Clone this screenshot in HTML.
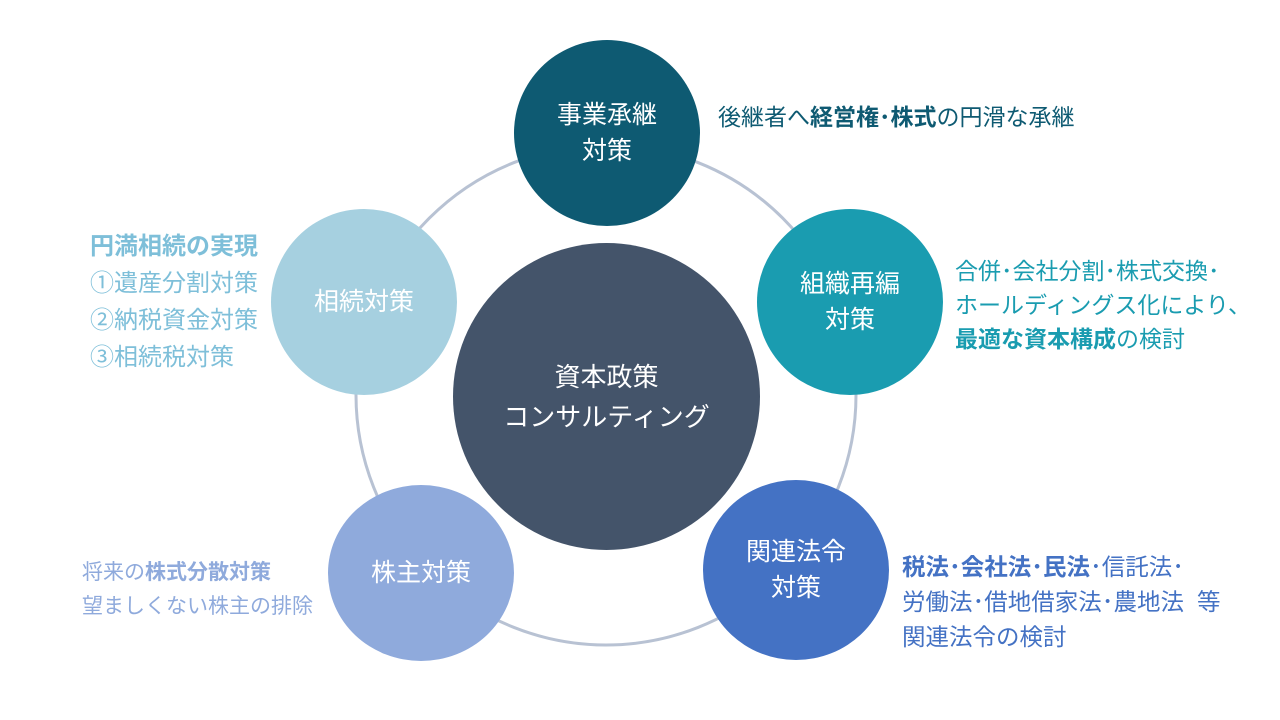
<!DOCTYPE html>
<html><head><meta charset="utf-8"><style>
body{margin:0;width:1280px;height:720px;background:#fff;position:relative;overflow:hidden;font-family:"Liberation Sans","Noto Sans CJK JP",sans-serif;}
.c{position:absolute;border-radius:50%;display:flex;align-items:center;justify-content:center;text-align:center;color:#fff;font-size:25px;line-height:36px;}
.t{position:absolute;font-size:23px;line-height:36px;white-space:nowrap;}
b{font-weight:bold;}
</style></head><body>
<svg width="1280" height="720" style="position:absolute;left:0;top:0">
<circle cx="606" cy="395" r="250" fill="none" stroke="#b8c2d3" stroke-width="3"/>
</svg>
<div class="c" style="left:453px;top:243px;width:307px;height:307px;background:#44546a;font-size:26px;line-height:40px">資本政策<br>コンサルティング</div>
<div class="c" style="left:514px;top:40px;width:186px;height:186px;background:#0e5a72">事業承継<br>対策</div>
<div class="c" style="left:757px;top:209px;width:186px;height:186px;background:#1a9cb0">組織再編<br>対策</div>
<div class="c" style="left:703px;top:480px;width:186px;height:180px;background:#4472c4">関連法令<br>対策</div>
<div class="c" style="left:328px;top:485px;width:186px;height:176px;background:#8faadc">株主対策</div>
<div class="c" style="left:271px;top:209px;width:186px;height:186px;background:#a6d0e0">相続対策</div>

<div class="t" style="left:718px;top:99px;color:#0e5a72">後継者へ<b>経営権･株式</b>の円滑な承継</div>
<div class="t" style="left:90px;top:228px;color:#7ebfd9;font-size:24px;line-height:37px"><b>円満相続の実現</b><br>①遺産分割対策<br>②納税資金対策<br>③相続税対策</div>
<div class="t" style="left:955px;top:254px;color:#1a9cb0;line-height:34px">合併･会社分割･株式交換･<br>ホールディングス化により、<br><b>最適な資本構成</b>の検討</div>
<div class="t" style="left:902px;top:550px;color:#4472c4;line-height:35px;font-size:23.5px"><b>税法･会社法･民法</b>･信託法･<br>労働法･借地借家法･農地法&nbsp;&nbsp;等<br>関連法令の検討</div>
<div class="t" style="left:82px;top:556px;color:#8faadc;line-height:34px;font-size:21px">将来の<b>株式分散対策</b><br>望ましくない株主の排除</div>
</body></html>
